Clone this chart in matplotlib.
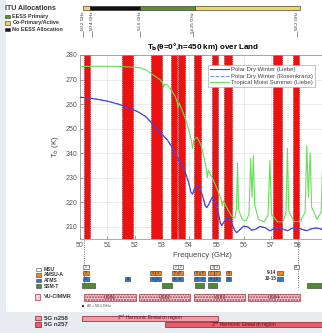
import matplotlib.pyplot as plt
from matplotlib.patches import Rectangle

plt.rcParams['font.family'] = ['Liberation Sans', 'DejaVu Sans']

W, H = 322, 333

# brightness temperature spectra (GHz, K)
freq_pdw = [50.0, 50.3, 50.6, 51.0, 51.4, 51.8, 52.1, 52.4, 52.7, 52.9, 53.07, 53.2, 53.4,
            53.6, 53.75, 53.9, 54.0, 54.07, 54.13, 54.2, 54.3, 54.4, 54.5, 54.6, 54.65,
            54.72, 54.85, 54.95, 55.05, 55.15, 55.2, 55.27, 55.42, 55.55, 55.68, 55.75,
            55.85, 56.0, 56.15, 56.3, 56.45, 56.6, 56.8, 56.97, 57.15, 57.35, 57.5, 57.62,
            57.8, 58.0, 58.15, 58.32, 58.5, 58.7, 58.9, 59.0]
tb_pdw = [262.8, 262.5, 262.0, 261.2, 260.0, 258.5, 257.0, 255.0, 251.5, 249.0, 247.0, 245.5,
          242.0, 237.5, 235.0, 231.0, 227.5, 224.0, 223.3, 225.5, 226.7, 225.5, 222.5, 218.5,
          217.8, 219.0, 222.0, 220.5, 217.0, 211.5, 210.5, 211.8, 213.7, 212.0, 208.5, 207.6,
          208.6, 210.2, 210.0, 208.6, 209.0, 210.1, 209.6, 208.3, 209.4, 209.6, 208.8, 208.4,
          209.5, 209.6, 208.9, 208.4, 209.2, 209.5, 208.9, 209.2]

freq_tms = [50.0, 50.5, 51.0, 51.5, 52.0, 52.2, 52.4, 52.6, 52.8, 52.95, 53.03, 53.07, 53.11,
            53.2, 53.35, 53.5, 53.56, 53.6, 53.64, 53.75, 53.9, 54.0, 54.08, 54.13, 54.18,
            54.3, 54.45, 54.58, 54.64, 54.67, 54.71, 54.85, 54.95, 55.1, 55.18, 55.22, 55.26,
            55.4, 55.55, 55.68, 55.74, 55.78, 55.82, 55.95, 56.1, 56.2, 56.264, 56.31, 56.363,
            56.41, 56.55, 56.75, 56.9, 56.968, 57.03, 57.25, 57.45, 57.56, 57.612, 57.66,
            57.85, 58.1, 58.26, 58.323, 58.38, 58.446, 58.5, 58.7, 58.85, 58.911, 58.97, 59.0]
tb_tms = [275.3, 275.4, 275.4, 275.3, 275.0, 274.8, 274.0, 272.5, 271.0, 269.8, 268.5, 266.8,
          268.2, 267.8, 265.8, 263.0, 261.0, 258.5, 260.5, 257.5, 253.0, 249.0, 245.5, 242.0,
          245.5, 246.5, 243.0, 237.0, 233.0, 230.0, 233.0, 230.0, 227.5, 223.5, 221.0, 218.5,
          220.5, 217.5, 214.5, 213.5, 217.0, 236.0, 217.0, 212.8, 212.5, 215.0, 238.0, 222.0,
          239.0, 219.0, 213.0, 212.0, 214.5, 237.0, 215.0, 212.0, 212.0, 216.0, 242.0, 216.5,
          212.0, 212.3, 216.0, 243.0, 222.0, 240.0, 218.0, 213.0, 216.0, 238.0, 217.0, 215.0]

# sounding channel bands (red)
band_lo = [50.16, 51.53, 52.61, 53.33, 53.61, 54.18, 54.83, 55.30, 57.09, 57.80]
band_hi = [50.37, 51.96, 53.00, 53.55, 53.85, 54.44, 55.08, 55.59, 57.42, 58.04]

series_names = ['Polar Dry Winter (Liebe)', 'Polar Dry Winter (Rosenkranz)',
                'Tropical Moist Summer (Liebe)']

# ITU allocation bar (segment edges as drawn) and labels
itu_edges = [50.11, 50.37, 52.20, 54.22, 58.07]
itu_kind = ['co', 'none', 'primary', 'co']
itu_label_pos = [50.11, 50.44, 52.20, 54.15, 57.95]
itu_labels = ['50.2 GHz', '50.4 GHz', '52.6 GHz', '54.25 GHz', '58.2 GHz']
itu_names = ['EESS Primary', 'Co-Primary/Active', 'No EESS Allocation']

# instrument channels
msu_freq = [50.22, 53.52, 53.70, 54.87, 55.01, 57.94]
msu_lab = ['1', '2', '2', '3', '3', '4']
amsu_freq = [50.22, 52.67, 52.86, 53.47, 53.68, 54.28, 54.49, 54.81, 55.03, 55.46, 57.34]
amsu_lab = ['3', '4', '4', '5', '5', '6', '6', '7', '7', '8', '']
atms_freq = [50.22, 51.74, 52.67, 52.86, 53.47, 53.68, 54.28, 54.49, 54.81, 55.03, 55.46, 57.34]
atms_lab = ['3', '4', '5', '5', '6', '6', '7', '7', '8', '8', '9', '']
ssmt_lo = [50.06, 53.00, 54.22, 54.71, 58.32]
ssmt_hi = [50.55, 53.37, 54.55, 55.02, 59.20]
usb_lo = [50.15, 52.17, 54.18, 56.17]
usb_hi = [52.06, 54.04, 56.06, 58.07]
usb_lab = ['USB1', 'USB2', 'USB3', 'USB4']
n258 = (50.07, 55.06)
n257 = (53.12, 59.30)

c_red = '#ee1111'
c_blue = '#3c3cdc'
c_green = '#66e055'
c_itu = {'primary': '#5e8e34', 'co': '#f3d560', 'none': '#111111'}
c_msu, c_amsu, c_atms, c_ssmt = 'white', '#e8862a', '#3a74c4', '#4e8a32'
c_usb = '#f7cfd3'
c_258, c_257 = '#f29aa2', '#ec5d6c'

fig = plt.figure(figsize=(W / 100, H / 100), dpi=100, facecolor='#e8ecf0')

# overlay in pixel units for background and left-hand legends
ov = fig.add_axes([0, 0, 1, 1], zorder=0)
ov.set_xlim(0, W)
ov.set_ylim(H, 0)
ov.axis('off')
ov.add_patch(Rectangle((6, 0), W, 312, facecolor='white', edgecolor='none'))

fx0, fx1 = 50.0, 59.0
left, width = 80 / W, 245.25 / W

# ---- main plot
ax = fig.add_axes([left, (H - 239) / H, width, 184 / H], zorder=2)
for lo, hi in zip(band_lo, band_hi):
    ax.axvspan(lo, hi, facecolor=c_red, edgecolor='#5a0000', ls=':', lw=0.5, zorder=1)
ax.plot(freq_pdw, tb_pdw, color=c_blue, lw=0.8, zorder=3, label=series_names[0])
ax.plot(freq_pdw, tb_pdw, color='#8080f0', lw=0.7, ls='--', zorder=2, label=series_names[1])
ax.plot(freq_tms, tb_tms, color=c_green, lw=0.8, zorder=3, label=series_names[2])
ax.set_xlim(fx0, fx1)
ax.set_ylim(205, 280)
ax.set_xticks(range(50, 59))
ax.set_yticks(range(210, 281, 10))
ax.grid(True, color='#dddddd', lw=0.4, zorder=0)
ax.set_axisbelow(True)
ax.tick_params(labelsize=5, colors='#555555', length=2, width=0.4, direction='in', pad=2)
for s in ax.spines.values():
    s.set_color('#888888')
    s.set_linewidth(0.5)
ax.set_xlabel('Frequency (GHz)', fontsize=5.5, color='#444444', labelpad=2)
ax.set_ylabel('T$_b$ (K)', fontsize=5.5, color='#444444', labelpad=3)
ax.set_title(r'T$_\mathbf{b}$(θ=0°,h=450 km) over Land', fontsize=5.8, fontweight='bold',
             x=0.5, pad=4)
leg = ax.legend(loc='upper right', bbox_to_anchor=(0.97, 0.96), fontsize=4.3, frameon=True,
                handlelength=3.2, handletextpad=0.4, borderpad=0.3, labelspacing=0.2,
                fancybox=False, edgecolor='#999999', framealpha=1)
leg.get_frame().set_linewidth(0.4)
for t in leg.get_texts():
    t.set_color('#444444')

# ---- ITU allocation bar
axb = fig.add_axes([left, 0, width, 1], zorder=1)
axb.set_xlim(fx0, fx1)
axb.set_ylim(H, 0)
axb.axis('off')
axb.patch.set_alpha(0)
for lo, hi, k in zip(itu_edges[:-1], itu_edges[1:], itu_kind):
    axb.add_patch(Rectangle((lo, 5.7), hi - lo, 4.6, facecolor=c_itu[k],
                            edgecolor='#222222', lw=0.4, clip_on=False))
for f, lab in zip(itu_label_pos, itu_labels):
    axb.text(f, 12, lab, rotation=90, ha='center', va='top', fontsize=3.2,
             color='#333333', clip_on=False)
    axb.vlines(f, 31, 37, color='#444444', lw=0.4, clip_on=False)

# ---- instrument panel (same frequency scale, pixel rows)
rows = {'msu': 267, 'amsu': 273, 'atms': 279, 'ssmt': 285.5}
bw, bh = 0.19, 4.6
axb.vlines([50.15, 58.0], 240, 289, color='#444444', lw=0.6, ls=':', zorder=1)
for freqs, labs, key, col in [(msu_freq, msu_lab, 'msu', c_msu),
                              (amsu_freq, amsu_lab, 'amsu', c_amsu),
                              (atms_freq, atms_lab, 'atms', c_atms)]:
    y = rows[key]
    for f, lab in zip(freqs, labs):
        axb.add_patch(Rectangle((f - bw / 2, y - bh / 2), bw, bh, facecolor=col,
                                edgecolor='#333333', lw=0.4, zorder=2))
        axb.text(f, y, lab, ha='center', va='center', fontsize=2.4, color='#222222', zorder=3)
axb.text(amsu_freq[-1] - bw / 2 - 0.03, rows['amsu'], '9-14', ha='right', va='center',
         fontsize=3.3, fontweight='bold', color='#333333')
axb.text(atms_freq[-1] - bw / 2 - 0.03, rows['atms'], '10-15', ha='right', va='center',
         fontsize=3.3, fontweight='bold', color='#333333')
for lo, hi in zip(ssmt_lo, ssmt_hi):
    axb.add_patch(Rectangle((lo, rows['ssmt'] - 2.3), hi - lo, 4.6, facecolor=c_ssmt,
                            edgecolor='#333333', lw=0.4, zorder=2))

for lo, hi, lab in zip(usb_lo, usb_hi, usb_lab):
    axb.add_patch(Rectangle((lo, 294.3), hi - lo, 6.7, facecolor=c_usb, edgecolor='#a03848',
                            lw=0.5, hatch='......', zorder=2))
    axb.text((lo + hi) / 2, 297.7, lab, ha='center', va='center', fontsize=3.3,
             color='#7a2030', zorder=3)
axb.annotate('', xy=(50.11, 301.5), xytext=(50.11, 309.5),
             arrowprops=dict(arrowstyle='-|>', lw=0.5, color='#222222', mutation_scale=3))
axb.text(50.22, 306, r'$f_{LO}$ = 50.1 GHz', fontsize=2.6, va='center', color='#333333')

for (lo, hi), y0, col in [(n258, 315.6, c_258), (n257, 322.3, c_257)]:
    axb.add_patch(Rectangle((lo, y0), hi - lo, 5.0, facecolor=col, edgecolor='#8a1c28',
                            lw=0.5, clip_on=False))
    axb.text((lo + min(hi, 58.9)) / 2, y0 + 2.5, r'2$^{nd}$ Harmonic Emission region',
             ha='center', va='center', fontsize=3.4, color='#5a0a14')

# ---- left legends (pixel overlay)
ov.text(5, 8, 'ITU Allocations', fontsize=5, fontweight='bold', va='center', color='#333333')
for i, (name, k) in enumerate(zip(itu_names, ['primary', 'co', 'none'])):
    y = 16.3 + i * 6.6
    ov.add_patch(Rectangle((5, y - 1.7), 5, 3.4, facecolor=c_itu[k], edgecolor='#333333', lw=0.4))
    ov.text(12.5, y, name, fontsize=3.9, fontweight='bold', va='center', color='#333333')

inst_names = ['MSU', 'AMSU-A', 'ATMS', 'SSM-T']
inst_cols = [c_msu, c_amsu, c_atms, c_ssmt]
for i, (name, col) in enumerate(zip(inst_names, inst_cols)):
    y = 269.3 + i * 5.6
    ov.add_patch(Rectangle((36, y - 1.8), 5, 3.6, facecolor=col, edgecolor='#444444', lw=0.4))
    ov.text(44, y, name, fontsize=3.6, fontweight='bold', va='center', color='#333333')
ov.add_patch(Rectangle((35, 294.3), 5.5, 5.2, facecolor=c_usb, edgecolor='#a03848', lw=0.5))
ov.text(44, 297, 'VU-CIMMR', fontsize=3.9, fontweight='bold', va='center', color='#333333')
ov.add_patch(Rectangle((35, 315.6), 6, 4.6, facecolor=c_258, edgecolor='#8a1c28', lw=0.5))
ov.text(44, 318, '5G n258', fontsize=4.4, fontweight='bold', va='center', color='#333333')
ov.add_patch(Rectangle((35, 322.3), 6, 4.6, facecolor=c_257, edgecolor='#8a1c28', lw=0.5))
ov.text(44, 325, '5G n257', fontsize=4.4, fontweight='bold', va='center', color='#333333')

fig.savefig('out.png', dpi=100, facecolor=fig.get_facecolor())
